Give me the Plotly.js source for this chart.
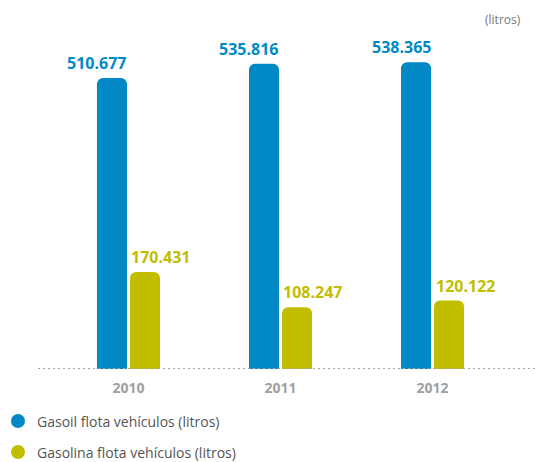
<!DOCTYPE html>
<html>
<head>
<meta charset="utf-8">
<script src="https://cdn.plot.ly/plotly-3.0.1.min.js"></script>
<style>html,body{margin:0;padding:0;background:#fff;}#chart{width:535px;height:462px;}</style>
</head>
<body>
<div id="chart"></div>
<script>
const years = ['2010', '2011', '2012'];
const gasoil = [510677, 535816, 538365];
const gasolina = [170431, 108247, 120122];
const seriesNames = ['Gasoil flota vehículos (litros)', 'Gasolina flota vehículos (litros)'];
const unitLabel = '(litros)';

const blue = '#0089c4';
const green = '#c3bd00';
const FONT = '"Open Sans", "Noto Sans", sans-serif';

function fmt(v) {
  return String(v).replace(/\B(?=(\d{3})+(?!\d))/g, '.');
}

const traces = [
  {type: 'bar', x: years, y: gasoil, name: seriesNames[0], marker: {color: blue, cornerradius: 6}, hoverinfo: 'skip', showlegend: false},
  {type: 'bar', x: years, y: gasolina, name: seriesNames[1], marker: {color: green, cornerradius: 6}, hoverinfo: 'skip', showlegend: false}
];

const annotations = [];
years.forEach((yr, i) => {
  annotations.push({x: i, y: gasoil[i], xref: 'x', yref: 'y', text: fmt(gasoil[i]), showarrow: false,
    xanchor: 'right', yanchor: 'bottom', xshift: 0, yshift: 2,
    font: {family: FONT, size: 16, color: blue, weight: 'bold'}});
  annotations.push({x: i, y: gasolina[i], xref: 'x', yref: 'y', text: fmt(gasolina[i]), showarrow: false,
    xanchor: 'left', yanchor: 'bottom', xshift: 1, yshift: 2,
    font: {family: FONT, size: 16, color: green, weight: 'bold'}});
});
annotations.push({xref: 'paper', yref: 'paper', x: 1, y: 1, xanchor: 'right', yanchor: 'bottom', xshift: -12, yshift: 10,
  text: unitLabel, showarrow: false, font: {family: FONT, size: 12, color: '#777'}});

const legendColors = [blue, green];
const shapes = [
  {type: 'line', xref: 'paper', yref: 'y', x0: 0, x1: 1, y0: 0, y1: 0,
   line: {color: '#a8a8a8', width: 2, dash: '2px,3px'}}
];
seriesNames.forEach((nm, i) => {
  const yc = -52 - i * 31;
  shapes.push({type: 'circle', xref: 'paper', yref: 'paper', xsizemode: 'pixel', ysizemode: 'pixel',
    xanchor: 0, yanchor: 0, x0: -27, x1: -13, y0: yc - 7, y1: yc + 7,
    fillcolor: legendColors[i], line: {width: 0}});
  annotations.push({xref: 'paper', yref: 'paper', x: 0, y: 0, xanchor: 'left', yanchor: 'middle',
    xshift: -3, yshift: yc, text: nm, showarrow: false,
    font: {family: FONT, size: 14, color: '#555'}});
});

const layout = {
  width: 535, height: 462,
  margin: {l: 38, r: 0, t: 40, b: 93},
  paper_bgcolor: '#fff', plot_bgcolor: '#fff',
  barmode: 'group', bargap: 0.566, bargroupgap: 0.09,
  showlegend: false,
  xaxis: {type: 'category', range: [-0.595, 2.674], showgrid: false, zeroline: false, showline: false,
    ticks: '', ticklabelstandoff: 9, tickfont: {family: FONT, size: 14, color: '#a0a0a0', weight: 'bold'}, fixedrange: true},
  yaxis: {range: [0, 577400], visible: false, showgrid: false, zeroline: false, fixedrange: true},
  shapes: shapes,
  annotations: annotations
};

Plotly.newPlot('chart', traces, layout, {displayModeBar: false, staticPlot: true});
</script>
</body>
</html>
